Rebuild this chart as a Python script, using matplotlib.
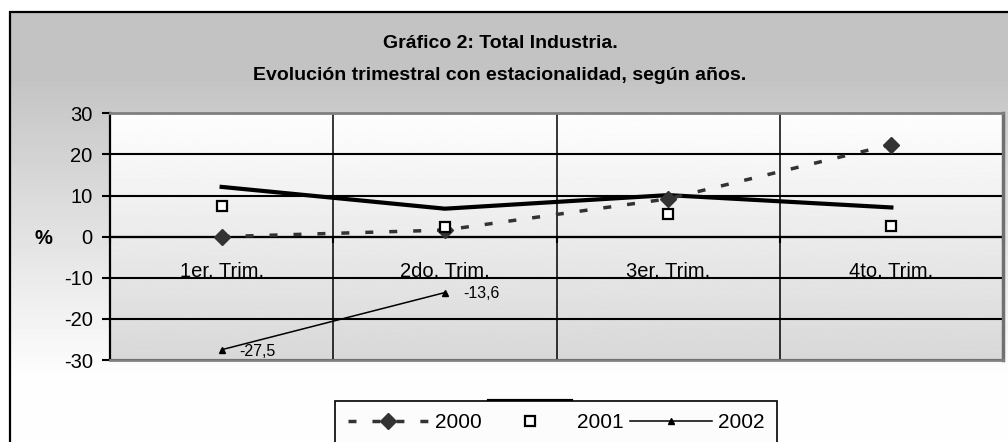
import numpy as np
import matplotlib
matplotlib.use("Agg")
import matplotlib.pyplot as plt
from matplotlib.patches import Rectangle
from matplotlib.lines import Line2D

plt.rcParams['font.family'] = ['Liberation Sans', 'DejaVu Sans']
plt.rcParams['axes.unicode_minus'] = False

# ---- data ----
categorias = ["1er. Trim.", "2do. Trim.", "3er. Trim.", "4to. Trim."]
serie_2000 = [0.0, 1.6, 9.2, 22.4]
serie_2001 = [7.5, 2.4, 5.6, 2.7]
serie_2002 = [-27.5, -13.6]
serie_sin_nombre = [12.1, 6.8, 10.1, 7.1]
yticks = [-30, -20, -10, 0, 10, 20, 30]
titulo_1 = "Gráfico 2: Total Industria."
titulo_2 = "Evolución trimestral con estacionalidad, según años."

W, H = 1008, 442
fig = plt.figure(figsize=(W / 100, H / 100), dpi=100)
fig.patch.set_facecolor('white')

# chart-area background gradient
bg = fig.add_axes([0, 0, 1, 1], zorder=-10)
rows = np.arange(H)
col = np.clip(196 + (rows - 80) * (254 - 196) / (380 - 80), 196, 254)
img = np.repeat(col[:, None], W, axis=1)
img[:12, :] = 255
img[:, :9] = 255
bg.imshow(img, extent=[0, 1, 0, 1], aspect='auto', cmap='gray', vmin=0, vmax=255,
          interpolation='nearest')
bg.set_xlim(0, 1)
bg.set_ylim(0, 1)
bg.add_patch(Rectangle((9.5 / W, -0.1), 1.2, (1 - 12 / H) + 0.1, fill=False,
                       lw=1.6, ec='black'))
bg.set_axis_off()

# plot area
x0, x1, ytop, ybot = 110, 1003, 113.3, 360
ax = fig.add_axes([x0 / W, 1 - ybot / H, (x1 - x0) / W, (ybot - ytop) / H])
grad = np.linspace(254, 216, 256)[:, None]
ax.imshow(grad, extent=(0, 4, -30, 30), aspect='auto', cmap='gray', vmin=0, vmax=255,
          zorder=0)
n = len(categorias)
ax.set_xlim(0, n)
ax.set_ylim(-30, 30)
ax.set_axisbelow(True)

ax.set_yticks(yticks)
ax.set_yticklabels([str(v) for v in yticks])
ax.tick_params(axis='y', direction='out', length=6, width=1.5, pad=6.5, labelsize=14.5)
ax.yaxis.grid(True, color='black', lw=1.5)
ax.set_xticks(np.arange(0, n + 1))
ax.xaxis.grid(True, color='black', lw=1.1)
ax.tick_params(axis='x', length=0, labelbottom=False)

for s in ['top', 'right', 'bottom']:
    ax.spines[s].set_color('#808080')
    ax.spines[s].set_linewidth(2)
ax.spines['right'].set_color('#707070')
ax.spines['right'].set_linewidth(2.5)
ax.spines['left'].set_color('black')
ax.spines['left'].set_linewidth(1.6)

# category axis crossing at zero
sec = ax.secondary_xaxis(0, transform=ax.transData)
sec.set_xticks(np.arange(0, n + 1))
sec.set_xticklabels([])
sec.set_xticks(np.arange(n) + 0.5, labels=categorias, minor=True)
sec.tick_params(axis='x', which='major', direction='out', length=4, width=1.5)
sec.tick_params(axis='x', which='minor', length=0, pad=18, labelsize=14.5)
sec.spines['bottom'].set_linewidth(1.6)

xc = np.arange(n) + 0.5
ax.plot(xc, serie_sin_nombre, color='black', lw=3, zorder=2, label='_nolegend_')
h2000, = ax.plot(xc, serie_2000, color='#333333', lw=2.5, dashes=(2.3, 4.6),
                 marker='D', ms=8.5, zorder=3, label='2000')
h2001, = ax.plot(xc, serie_2001, ls='none', marker='s', ms=7.5, mfc='white',
                 mec='black', mew=1.6, zorder=4, label='2001')
x2002 = xc[:len(serie_2002)]
h2002, = ax.plot(x2002, serie_2002, color='black', lw=1.1, marker='^', ms=4,
                 zorder=4, label='2002')
for xv, yv in zip(x2002, serie_2002):
    ax.annotate(f"{yv:.1f}".replace('.', ','), (xv, yv), xytext=(13, -1),
                textcoords='offset points', va='center', ha='left', fontsize=11.5)

# titles and axis label
fig.text(500 / W, 1 - 43 / H, titulo_1, ha='center', va='center', fontsize=14,
         weight='bold')
fig.text(500 / W, 1 - 75 / H, titulo_2, ha='center', va='center', fontsize=14,
         weight='bold')
fig.text(43 / W, 1 - 238 / H, "%", ha='center', va='center', fontsize=14.5,
         weight='bold')

# legend
leg = fig.legend([h2000, h2001, h2002], ['2000', '2001', '2002'], loc='upper left',
                 bbox_to_anchor=(335 / W, 1 - 400.7 / H), ncol=3, fontsize=15,
                 handlelength=3.9, handletextpad=0.3, columnspacing=0.35,
                 borderpad=0.6, frameon=True, fancybox=False, edgecolor='black',
                 facecolor='#fcfcfc', framealpha=1, borderaxespad=0)
leg.get_frame().set_linewidth(1.2)
fig.add_artist(Line2D([489 / W, 571 / W], [1 - 401 / H, 1 - 401 / H], color='black',
                      lw=3, transform=fig.transFigure))

fig.savefig("out.png", dpi=100)
